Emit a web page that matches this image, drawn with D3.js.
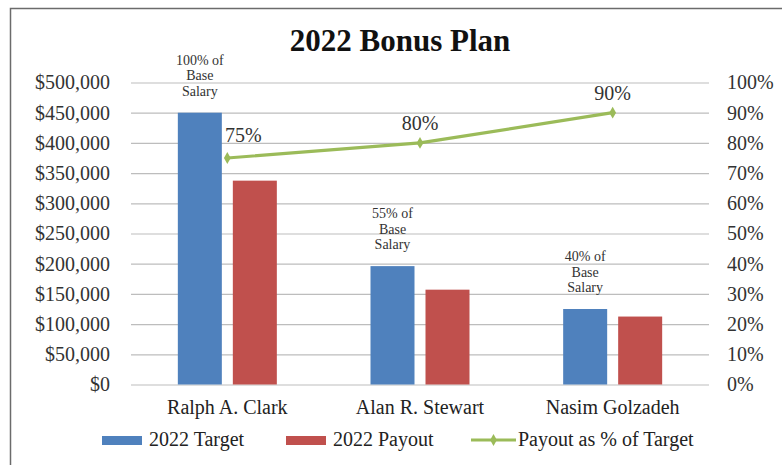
<!DOCTYPE html>
<html>
<head>
<meta charset="utf-8">
<script src="https://cdn.jsdelivr.net/npm/d3@7"></script>
<style>
  body { margin: 0; background: #fff; }
  svg text { font-family: "Liberation Serif", "Times New Roman", serif; }
</style>
</head>
<body>
<svg id="chart" width="782" height="465"></svg>
<script>
const people = ["Ralph A. Clark", "Alan R. Stewart", "Nasim Golzadeh"];
const target = [450000, 196000, 125000];
const payout = [337500, 157000, 112500];
const payoutPct = [75, 80, 90];
const baseNotes = [["100% of", "Base", "Salary"], ["55% of", "Base", "Salary"], ["40% of", "Base", "Salary"]];
const moneyTicks = [0, 50000, 100000, 150000, 200000, 250000, 300000, 350000, 400000, 450000, 500000];
const pctTicks = [0, 10, 20, 30, 40, 50, 60, 70, 80, 90, 100];

const blue = "#4f81bd", red = "#c0504d", green = "#9bbb59";

const svg = d3.select("#chart");
const plot = {left: 131, right: 709, top: 82.5, bottom: 384.5};

// frame
svg.append("rect")
    .attr("x", 10.5).attr("y", 8.5)
    .attr("width", 800).attr("height", 500)
    .attr("fill", "#fff")
    .attr("stroke", "#6b6b6b")
    .attr("stroke-width", 1.5);

svg.append("text")
    .attr("x", 400).attr("y", 51)
    .attr("text-anchor", "middle")
    .attr("font-size", 31)
    .attr("font-weight", "bold")
    .attr("fill", "#111")
    .text("2022 Bonus Plan");

const x0 = d3.scaleBand().domain(people).range([plot.left, plot.right]);
const bw = x0.bandwidth();
const x1 = d3.scaleBand().domain(["target", "payout"])
    .range([(bw - 99) / 2, (bw + 99) / 2])
    .paddingInner(0.2);
const y = d3.scaleLinear().domain([0, 500000]).range([plot.bottom, plot.top]);
const yPct = d3.scaleLinear().domain([0, 100]).range([plot.bottom, plot.top]);

// gridlines
svg.append("g")
    .attr("transform", `translate(${plot.left},0)`)
    .call(d3.axisLeft(y).tickValues(moneyTicks).tickSize(-(plot.right - plot.left)).tickFormat(""))
    .call(g => g.select(".domain").remove())
    .call(g => g.selectAll("line").attr("stroke", "#bdbdbd").attr("stroke-width", 1.2));

// left axis labels
svg.append("g")
    .attr("transform", `translate(${plot.left - 21},0)`)
    .call(d3.axisLeft(y).tickValues(moneyTicks).tickSize(0).tickPadding(0)
        .tickFormat(d => "$" + d3.format(",")(d)))
    .call(g => g.select(".domain").remove())
    .call(g => g.selectAll("text")
        .attr("font-size", 20)
        .attr("font-family", "Liberation Serif, serif")
        .attr("fill", "#333"));

// right axis labels
svg.append("g")
    .attr("transform", `translate(${plot.right + 18},0)`)
    .call(d3.axisRight(yPct).tickValues(pctTicks).tickSize(0).tickPadding(0)
        .tickFormat(d => d + "%"))
    .call(g => g.select(".domain").remove())
    .call(g => g.selectAll("text")
        .attr("font-size", 20)
        .attr("font-family", "Liberation Serif, serif")
        .attr("fill", "#333"));

// category labels
svg.append("g")
    .attr("transform", `translate(0,${plot.bottom + 29})`)
    .call(d3.axisBottom(x0).tickSize(0).tickPadding(0))
    .call(g => g.select(".domain").remove())
    .call(g => g.selectAll("text")
        .attr("dy", 0)
        .attr("font-size", 20)
        .attr("font-family", "Liberation Serif, serif")
        .attr("fill", "#222"));

// bars
const rows = people.map((p, i) => ({name: p, target: target[i], payout: payout[i], pct: payoutPct[i], note: baseNotes[i]}));

const groups = svg.append("g").selectAll("g")
    .data(rows)
    .join("g")
    .attr("transform", d => `translate(${x0(d.name)},0)`);

groups.append("rect")
    .attr("x", x1("target"))
    .attr("y", d => y(d.target))
    .attr("width", x1.bandwidth())
    .attr("height", d => y(0) - y(d.target))
    .attr("fill", blue);

groups.append("rect")
    .attr("x", x1("payout"))
    .attr("y", d => y(d.payout))
    .attr("width", x1.bandwidth())
    .attr("height", d => y(0) - y(d.payout))
    .attr("fill", red);

// "% of Base Salary" notes above target bars
groups.each(function(d) {
    const t = d3.select(this).append("text")
        .attr("text-anchor", "middle")
        .attr("font-size", 14)
        .attr("fill", "#333");
    const cx = x1("target") + x1.bandwidth() / 2;
    const lastY = y(d.target) - 17;
    d.note.forEach((line, j) => {
        t.append("tspan")
            .attr("x", cx)
            .attr("y", lastY - (d.note.length - 1 - j) * 15.5)
            .text(line);
    });
});

// line series
const cxOf = d => x0(d.name) + bw / 2;
const line = d3.line().x(cxOf).y(d => yPct(d.pct));

svg.append("path")
    .datum(rows)
    .attr("fill", "none")
    .attr("stroke", green)
    .attr("stroke-width", 3.2)
    .attr("stroke-linejoin", "round")
    .attr("d", line);

const diamond = d3.symbol().type(d3.symbolDiamond).size(40);
svg.append("g").selectAll("path")
    .data(rows)
    .join("path")
    .attr("transform", d => `translate(${cxOf(d)},${yPct(d.pct)})`)
    .attr("d", diamond)
    .attr("fill", green);

svg.append("g").selectAll("text")
    .data(rows)
    .join("text")
    .attr("x", (d, i) => cxOf(d) + (i === 0 ? 16 : 0))
    .attr("y", (d, i) => yPct(d.pct) - (i === 0 ? 16 : 13))
    .attr("text-anchor", "middle")
    .attr("font-size", 20)
    .attr("fill", "#333")
    .text(d => d.pct + "%");

// legend
const legend = svg.append("g");
const legendItems = [
    {label: "2022 Target", color: blue, type: "bar", x: 102},
    {label: "2022 Payout", color: red, type: "bar", x: 286},
    {label: "Payout as % of Target", color: green, type: "line", x: 471}
];
legendItems.forEach(item => {
    if (item.type === "bar") {
        legend.append("rect")
            .attr("x", item.x).attr("y", 436)
            .attr("width", 40).attr("height", 9)
            .attr("fill", item.color);
        legend.append("text")
            .attr("x", item.x + 47).attr("y", 446)
            .attr("font-size", 20).attr("fill", "#222")
            .text(item.label);
    } else {
        legend.append("line")
            .attr("x1", item.x).attr("x2", item.x + 45)
            .attr("y1", 440).attr("y2", 440)
            .attr("stroke", item.color).attr("stroke-width", 3.2);
        legend.append("path")
            .attr("transform", `translate(${item.x + 22.5},440)`)
            .attr("d", diamond)
            .attr("fill", item.color);
        legend.append("text")
            .attr("x", item.x + 47).attr("y", 446)
            .attr("font-size", 20).attr("fill", "#222")
            .text(item.label);
    }
});
</script>
</body>
</html>
